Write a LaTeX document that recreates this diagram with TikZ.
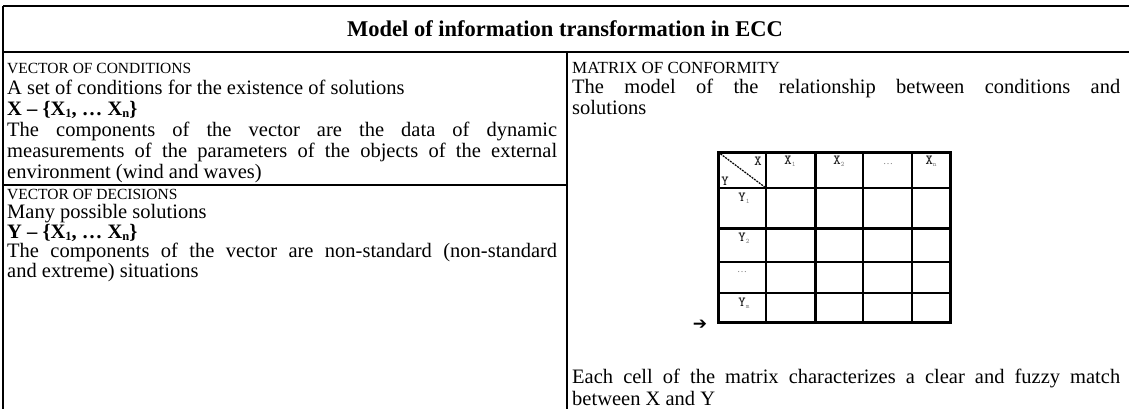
\documentclass[tikz,border=0pt]{standalone}
\usepackage{fontspec}
\setmainfont{Liberation Serif}
\newfontfamily\arrowfont{DejaVu Sans}
\usetikzlibrary{calc}
\tikzset{
    my-frame/.style={line width=1.6pt},
    my-rule/.style={line width=1.4pt},
    my-title/.style={font=\fontsize{22.5}{24}\selectfont\bfseries, inner sep=0pt},
    my-cell-text/.style={
        anchor=north west, inner sep=0pt, text width=550pt, align=justify,
        font=\fontsize{20.5}{21}\selectfont, execute at begin node=\setlength{\parindent}{0pt}
    },
    my-grid-thin/.style={line width=1.2pt},
    my-grid-thick/.style={line width=3pt},
    my-grid-label/.style={font=\ttfamily\bfseries\fontsize{14}{14}\selectfont, text=black!85, inner sep=0pt},
    my-grid-dots/.style={font=\fontsize{10}{10}\selectfont, text=black!50, inner sep=0pt},
    my-arrow/.style={font=\arrowfont\bfseries\fontsize{17}{17}\selectfont, inner sep=0pt},
}
\newcommand{\gridsub}[1]{\raisebox{-2pt}{\color{black!45}\fontsize{7}{7}\selectfont #1}}
\newcommand{\vecsub}[1]{\raisebox{-2.5pt}{\fontsize{12.5}{12.5}\selectfont #1}}
\newcommand{\headsmall}[1]{{\fontsize{15.5}{15.5}\selectfont #1}}

\begin{document}
\begin{tikzpicture}[x=1pt, y=-1pt]
    \useasboundingbox (0,0) rectangle (1129,409);

    % FRAME AND TITLE ROW ---------------------------------------------------------

    \coordinate (TL)     at (3, 6);
    \coordinate (TR)     at (1129, 6);
    \coordinate (HL)     at (3, 52);
    \coordinate (HR)     at (1129, 52);
    \coordinate (BL)     at (3, 409);
    \coordinate (DIVTOP) at (567, 52);
    \coordinate (DIVBOT) at (567, 409);
    \draw[my-frame] (TL) -- (TR);
    \draw[my-frame] (TL) -- (BL);
    \draw[my-rule]  (HL) -- (HR);
    \draw[my-rule]  (DIVTOP) -- (DIVBOT);
    \node[my-title] (TITLE) at (565, 29) {Model of information transformation in ECC};

    % LEFT COLUMN -----------------------------------------------------------------

    % VECTOR OF CONDITIONS
    \node[my-cell-text] (COND) at ($(HL) + (4, 11)$) {\headsmall{VECTOR OF CONDITIONS}\par
        A set of conditions for the existence of solutions\par
        \textbf{X – \{X\vecsub{1}, … X\vecsub{n}\}}\par
        The components of the vector are the data of dynamic\linebreak
        measurements of the parameters of the objects of the external\linebreak
        environment (wind and waves)};

    % SEPARATOR
    \coordinate (SEPL) at ($(COND.south -| HL) + (0, 2)$);
    \coordinate (SEPR) at (SEPL -| DIVTOP);
    \draw[my-rule] (SEPL) -- (SEPR);

    % VECTOR OF DECISIONS
    \node[my-cell-text, font=\fontsize{20.5}{19.5}\selectfont] (DEC) at ($(SEPL) + (4, 4)$) {\headsmall{VECTOR OF DECISIONS}\par
        Many possible solutions\par
        \textbf{Y – \{X\vecsub{1}, … X\vecsub{n}\}}\par
        The components of the vector are non-standard (non-standard\linebreak
        and extreme) situations};

    % RIGHT COLUMN ----------------------------------------------------------------

    % MATRIX OF CONFORMITY
    \node[my-cell-text, text width=548pt, font=\fontsize{20.5}{20.5}\selectfont] (MAT) at ($(DIVTOP) + (5, 10)$) {{\fontsize{17}{17}\selectfont MATRIX OF CONFORMITY}\par
        The model of the relationship between conditions and\linebreak
        solutions};

    % GRID OF THE MATRIX
    \coordinate (GNW) at (718, 152);
    \coordinate (GSE) at (950, 322);
    \foreach \x in {48, 145, 194}
        \draw[my-grid-thin] ($(GNW) + (\x, 0)$) -- ($(GNW |- GSE) + (\x, 0)$);
    \foreach \y in {36, 110, 141}
        \draw[my-grid-thin] ($(GNW) + (0, \y)$) -- ($(GNW -| GSE) + (0, \y)$);
    \draw[my-grid-thick] ($(GNW) + (97, 0)$) -- ($(GNW |- GSE) + (97, 0)$);
    \draw[my-grid-thick] ($(GNW) + (0, 76)$) -- ($(GNW -| GSE) + (0, 76)$);
    \draw[my-grid-thick] (GNW) rectangle (GSE);
    \draw[my-grid-thin, dash pattern=on 2pt off 1pt] (GNW) -- ($(GNW) + (48, 36)$);

    % GRID LABELS
    \node[my-grid-label] (CORNERX) at ($(GNW) + (40, 9)$)   {X};
    \node[my-grid-label] (CORNERY) at ($(GNW) + (7, 29)$)   {Y};
    \node[my-grid-label] (X1)      at ($(GNW) + (72, 9)$)   {X\gridsub{1}};
    \node[my-grid-label] (X2)      at ($(GNW) + (121, 9)$)  {X\gridsub{2}};
    \node[my-grid-dots]  (XDOTS)   at ($(GNW) + (170, 12)$) {…};
    \node[my-grid-label] (XN)      at ($(GNW) + (213, 9)$)  {X\gridsub{n}};
    \node[my-grid-label] (Y1)      at ($(GNW) + (26, 46)$)  {Y\gridsub{1}};
    \node[my-grid-label] (Y2)      at ($(GNW) + (26, 86)$)  {Y\gridsub{2}};
    \node[my-grid-dots]  (YDOTS)   at ($(GNW) + (24, 120)$) {…};
    \node[my-grid-label] (YM)      at ($(GNW) + (26, 151)$) {Y\gridsub{m}};

    % ARROW AT THE CORNER
    \node[my-arrow] (ARROW) at ($(GNW |- GSE) + (-18, 3)$) {➔};

    % MATCH TEXT
    \node[my-cell-text, text width=548pt, font=\fontsize{20.5}{22}\selectfont] (MATCH) at ($(DIVTOP |- GSE) + (5, 47)$) {Each cell of the matrix characterizes a clear and fuzzy match\linebreak
        between X and Y};

\end{tikzpicture}
\end{document}
